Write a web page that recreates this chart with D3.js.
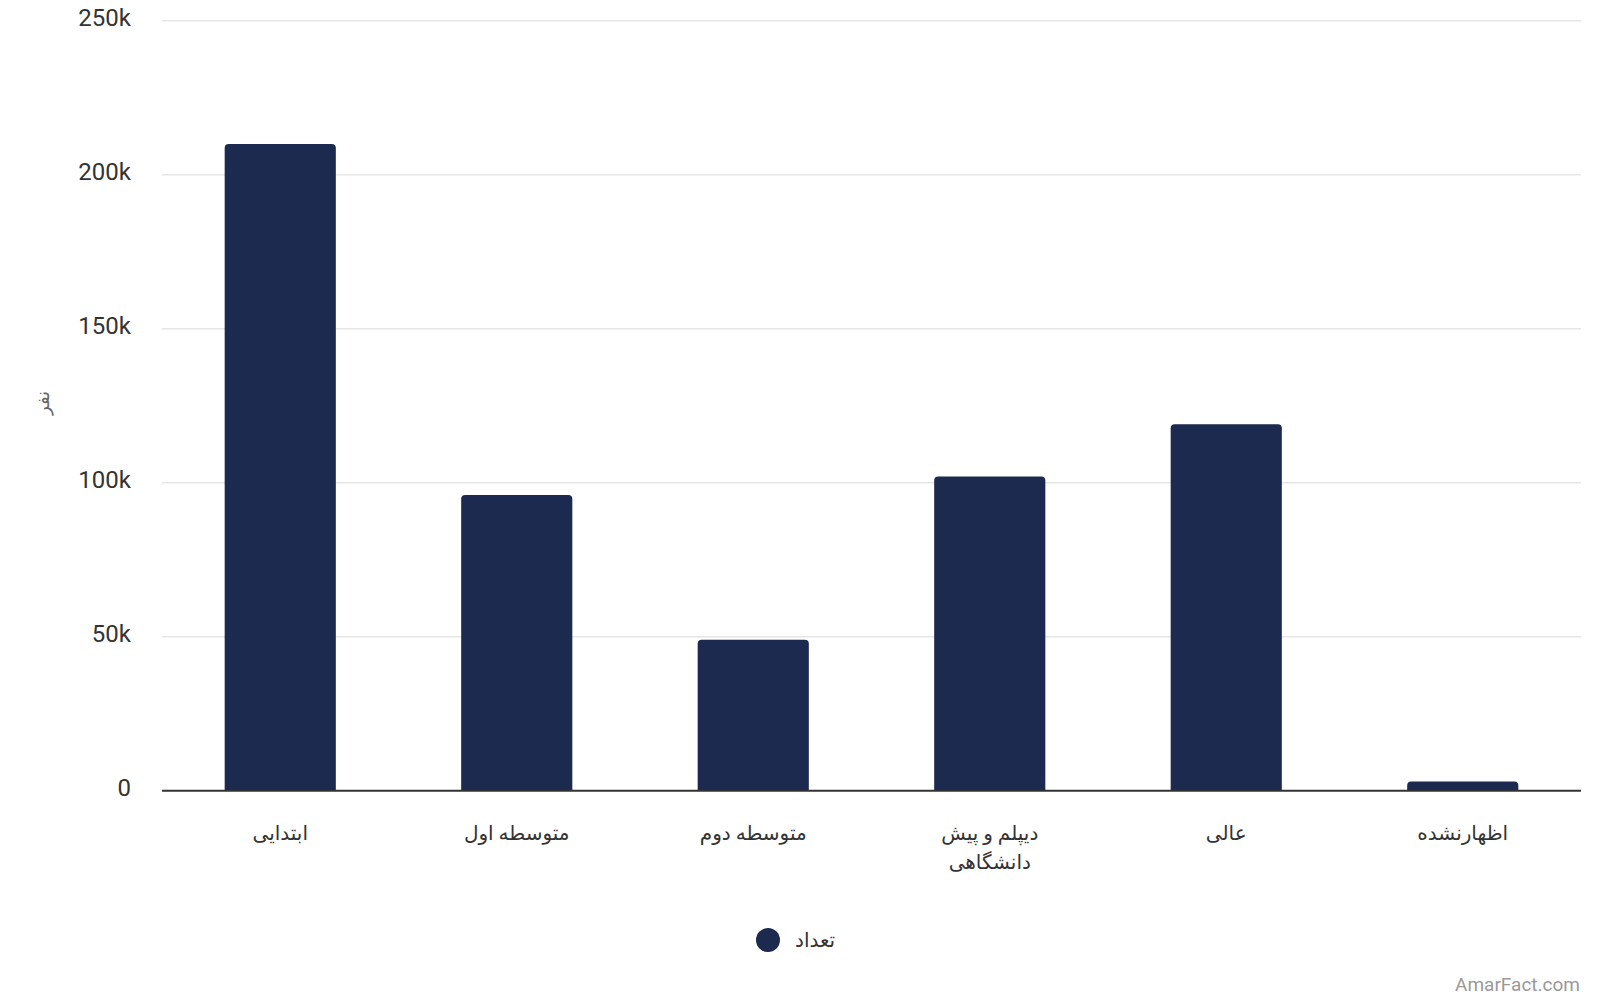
<!DOCTYPE html>
<html><head><meta charset="utf-8">
<script src="https://cdn.jsdelivr.net/npm/d3@7"></script>
<style>
html,body{margin:0;padding:0;background:#fff;}
svg{display:block;font-family:Roboto,"DejaVu Sans",sans-serif;}
</style></head>
<body><svg id="c" width="1600" height="1000"></svg>
<script>
const categories = ["ابتدایی","متوسطه اول","متوسطه دوم","دیپلم و پیش دانشگاهی","عالی","اظهارنشده"];
const labelLines = [["ابتدایی"],["متوسطه اول"],["متوسطه دوم"],["دیپلم و پیش","دانشگاهی"],["عالی"],["اظهارنشده"]];
const values = [210000, 96000, 49000, 102000, 119000, 3000];
const yTicks = [0, 50000, 100000, 150000, 200000, 250000];
const seriesName = "تعداد";
const yTitle = "نفر";

const svg = d3.select("#c");
const m = {left:162, right:1581, top:20.7, bottom:790.7};
const x = d3.scaleBand().domain(categories).range([m.left, m.right]).paddingInner(0.53).paddingOuter(0.265);
const y = d3.scaleLinear().domain([0,250000]).range([m.bottom, m.top]);
const color = "#1b2a4e";

// grid
svg.append("g").selectAll("line").data(yTicks.filter(d=>d>0)).join("line")
  .attr("x1", m.left).attr("x2", m.right)
  .attr("y1", d=>y(d)).attr("y2", d=>y(d))
  .attr("stroke","#e6e6e6").attr("stroke-width",1.5);

// y labels
svg.append("g").selectAll("text").data(yTicks).join("text")
  .attr("x",131).attr("y",d=>y(d)-3).attr("dy","0.35em")
  .attr("text-anchor","end").attr("font-size",24).attr("fill","#333")
  .text(d=> d===0 ? "0" : (d/1000)+"k");

// y title
svg.append("text").attr("transform","translate(43,403) rotate(-90)")
  .attr("text-anchor","middle").attr("dy","0.35em").attr("font-size",18).attr("fill","#666")
  .text(yTitle);

// bars with top rounded corners
const r = 4;
svg.append("g").selectAll("path").data(values).join("path")
  .attr("fill", color)
  .attr("d", (d,i)=>{
    const x0 = x(categories[i]), w = x.bandwidth(), y0 = y(d), y1 = y(0);
    const rr = Math.min(r, (y1-y0)/2);
    return `M${x0},${y1}V${y0+rr}Q${x0},${y0} ${x0+rr},${y0}H${x0+w-rr}Q${x0+w},${y0} ${x0+w},${y0+rr}V${y1}Z`;
  });

// baseline
svg.append("line").attr("x1",m.left).attr("x2",m.right).attr("y1",y(0)).attr("y2",y(0))
  .attr("stroke","#333").attr("stroke-width",2);

// x labels
const xl = svg.append("g").selectAll("text").data(categories).join("text")
  .attr("x", d=> x(d)+x.bandwidth()/2).attr("y", 835)
  .attr("text-anchor","middle").attr("font-size",20).attr("fill","#333")
  .attr("direction","rtl").attr("dominant-baseline","middle");
xl.each(function(d,i){
  const t = d3.select(this);
  labelLines[i].forEach((ln,j)=>{
    t.append("tspan").attr("x", x(d)+x.bandwidth()/2).attr("dy", j===0?0:29).text(ln);
  });
});

// legend
svg.append("circle").attr("cx",768).attr("cy",940).attr("r",12).attr("fill",color);
svg.append("text").attr("x",795).attr("y",940).attr("dy","0.35em").attr("text-anchor","start")
  .attr("font-size",20).attr("fill","#333").text(seriesName);

// footer
svg.append("text").attr("x",1580).attr("y",984).attr("dy","0.35em").attr("text-anchor","end")
  .attr("font-size",19).attr("fill","#999").text("AmarFact.com");
</script></body></html>
